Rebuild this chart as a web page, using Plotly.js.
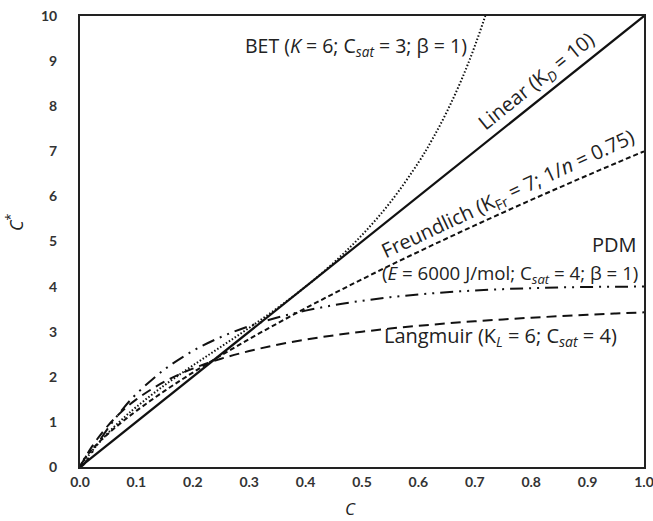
<!DOCTYPE html>
<html>
<head>
<meta charset="utf-8">
<script src="https://cdn.plot.ly/plotly-3.0.1.min.js"></script>
<style>html,body{margin:0;padding:0;background:#fff;}#chart{width:653px;height:521px;}</style>
</head>
<body>
<div id="chart"></div>
<script>
// Concentration C (x) sample points
const cLinear = [0, 1];
const qLinear = [0, 10];

const cBET = [0, 0.01, 0.02, 0.03, 0.05, 0.075, 0.1, 0.15, 0.2, 0.25, 0.3, 0.35, 0.4, 0.45, 0.5, 0.55, 0.6, 0.625, 0.65, 0.675, 0.7, 0.725, 0.75];
const qBET = [0, 0.173, 0.334, 0.484, 0.758, 1.061, 1.333, 1.815, 2.25, 2.667, 3.086, 3.525, 4.0, 4.532, 5.143, 5.867, 6.75, 7.273, 7.866, 8.545, 9.333, 10.26, 11.37];

const cCurve = [0, 0.005, 0.01, 0.02, 0.03, 0.05, 0.075, 0.1, 0.15, 0.2, 0.25, 0.3, 0.35, 0.4, 0.45, 0.5, 0.55, 0.6, 0.65, 0.7, 0.75, 0.8, 0.85, 0.9, 0.95, 1.0];
const qFreundlich = [0, 0.132, 0.221, 0.372, 0.505, 0.740, 1.003, 1.245, 1.687, 2.094, 2.475, 2.838, 3.185, 3.521, 3.846, 4.162, 4.471, 4.772, 5.067, 5.357, 5.642, 5.921, 6.197, 6.468, 6.736, 7.0];
const qLangmuir = [0, 0.116, 0.226, 0.429, 0.610, 0.923, 1.241, 1.5, 1.895, 2.182, 2.4, 2.571, 2.710, 2.824, 2.919, 3.0, 3.070, 3.130, 3.184, 3.231, 3.273, 3.310, 3.344, 3.375, 3.403, 3.429];
const qPDM = [0, 0.033, 0.108, 0.294, 0.492, 0.866, 1.274, 1.620, 2.165, 2.572, 2.882, 3.124, 3.315, 3.467, 3.588, 3.685, 3.764, 3.826, 3.875, 3.914, 3.944, 3.966, 3.982, 3.992, 3.998, 4.0];

const xTickVals = [0, 0.1, 0.2, 0.3, 0.4, 0.5, 0.6, 0.7, 0.8, 0.9, 1.0];
const xTickText = ["0.0", "0.1", "0.2", "0.3", "0.4", "0.5", "0.6", "0.7", "0.8", "0.9", "1.0"];
const yTickVals = [0, 1, 2, 3, 4, 5, 6, 7, 8, 9, 10];

const lineColor = '#111';
const traces = [
  {x: cLinear, y: qLinear, mode: 'lines', line: {color: lineColor, width: 2.2}},
  {x: cBET, y: qBET, mode: 'lines', line: {color: lineColor, width: 2, dash: '1.5px,2px', shape: 'spline'}},
  {x: cCurve, y: qFreundlich, mode: 'lines', line: {color: lineColor, width: 2, dash: '5px,3px', shape: 'spline'}},
  {x: cCurve, y: qLangmuir, mode: 'lines', line: {color: lineColor, width: 2, dash: '10px,6px', shape: 'spline'}},
  {x: cCurve, y: qPDM, mode: 'lines', line: {color: lineColor, width: 2, dash: '13px,6px,2px,6px,2px,6px', shape: 'spline'}}
];

const annFont = {family: 'Open Sans, Noto Sans, sans-serif', size: 20, color: '#222'};
const tickFont = {family: 'Lato, sans-serif', size: 14, color: '#333', weight: 'bold'};
const layout = {
  width: 653, height: 521,
  margin: {l: 80, r: 9, t: 16, b: 54},
  paper_bgcolor: '#fff', plot_bgcolor: '#fff',
  showlegend: false,
  font: {family: 'Lato, sans-serif', size: 14, color: '#333'},
  xaxis: {
    range: [0, 1], tickvals: xTickVals, ticktext: xTickText,
    showgrid: false, zeroline: false, showline: true, mirror: true,
    linecolor: '#222', linewidth: 2, ticks: '', ticklabelstandoff: 1,
    ticklabeloverflow: 'allow', tickfont: tickFont
  },
  yaxis: {
    range: [0, 10], tickvals: yTickVals,
    showgrid: false, zeroline: false, showline: true, mirror: true,
    linecolor: '#222', linewidth: 2, ticks: '', ticklabelstandoff: 18,
    tickfont: tickFont
  },
  annotations: [
    {xref: 'paper', yref: 'paper', x: (350 - 80) / 564, y: (467 - 509) / 451, xanchor: 'center', yanchor: 'middle',
     text: '<i>C</i>', showarrow: false, font: {family: 'Open Sans, sans-serif', size: 17, color: '#222'}},
    {xref: 'paper', yref: 'paper', x: (15 - 80) / 564, y: (467 - 222) / 451, xanchor: 'center', yanchor: 'middle',
     text: '<i>C</i><sup>*</sup>', showarrow: false, textangle: -90, font: {family: 'Open Sans, sans-serif', size: 18, color: '#222'}},
    {x: 0.49, y: 9.32, text: 'BET (<i>K</i> = 6; C<sub><i>sat</i></sub> = 3; β = 1)', showarrow: false,
     font: {family: 'Open Sans, Noto Sans, sans-serif', size: 19.5, color: '#222'}},
    {x: 0.81, y: 8.54, text: 'Linear (K<sub><i>D</i></sub> = 10)', showarrow: false, textangle: -38.7, font: annFont},
    {x: 0.758, y: 6.05, text: 'Freundlich (K<sub>Fr</sub> = 7; 1/<i>n</i> = 0.75)', showarrow: false, textangle: -25, font: annFont},
    {x: 1.0, xanchor: 'right', xshift: -5, y: 4.93, text: 'PDM', showarrow: false, font: annFont},
    {x: 0.762, y: 4.28, text: '(<i>E</i> = 6000 J/mol; C<sub><i>sat</i></sub> = 4; β = 1)', showarrow: false,
     font: {family: 'Open Sans, Noto Sans, sans-serif', size: 18.7, color: '#222'}},
    {x: 0.746, y: 2.9, text: 'Langmuir (K<sub><i>L</i></sub> = 6; C<sub><i>sat</i></sub> = 4)', showarrow: false, font: annFont}
  ]
};

Plotly.newPlot('chart', traces, layout, {staticPlot: true, displayModeBar: false});
</script>
</body>
</html>
